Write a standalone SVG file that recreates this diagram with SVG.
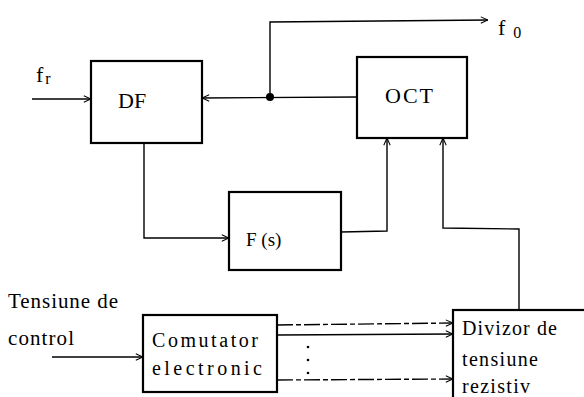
<svg xmlns="http://www.w3.org/2000/svg" width="584" height="397" viewBox="0 0 584 397">
<style>
.box{fill:#fff;stroke:#000;stroke-width:2.2}
.ln{fill:none;stroke:#000;stroke-width:1.4}
.dash{fill:none;stroke:#000;stroke-width:1.4;stroke-dasharray:16 3 5 3}
.t{font-family:"Liberation Serif","Times New Roman","DejaVu Serif",serif;fill:#000}
</style>
<defs>
<marker id="ah" viewBox="0 0 10 10" refX="10" refY="5" markerWidth="8" markerHeight="8" markerUnits="userSpaceOnUse" orient="auto">
<path d="M1,1 L10,5 L1,9" fill="none" stroke="#000" stroke-width="1.3"/>
</marker>
</defs>
<rect width="584" height="397" fill="#fff"/>
<g id="connectors">
<line class="ln" x1="32" y1="99" x2="91" y2="99" marker-end="url(#ah)"/>
<line class="ln" x1="357" y1="97" x2="202" y2="98" marker-end="url(#ah)"/>
<polyline class="ln" points="270,97 270,22 488,20" marker-end="url(#ah)"/>
<polyline class="ln" points="144,143 144,238 229,238" marker-end="url(#ah)"/>
<polyline class="ln" points="341,232 387,231 387,138" marker-end="url(#ah)"/>
<polyline class="ln" points="519,310 519,229 443,228 443,138" marker-end="url(#ah)"/>
<line class="ln" x1="52" y1="357" x2="143" y2="357" marker-end="url(#ah)"/>
<line class="dash" x1="277" y1="325" x2="453" y2="323" marker-end="url(#ah)"/>
<line class="ln" x1="277" y1="335" x2="453" y2="334" marker-end="url(#ah)"/>
<line class="dash" x1="277" y1="380" x2="453" y2="379" marker-end="url(#ah)"/>
<circle cx="270" cy="97" r="4" fill="#000"/>
<circle cx="308" cy="347" r="1.3" fill="#000"/>
<circle cx="308" cy="360" r="1.3" fill="#000"/>
<circle cx="308" cy="373" r="1.3" fill="#000"/>
</g>
<g id="DF">
<rect class="box" x="91" y="61" width="111" height="82"/>
<text class="t" x="118" y="108" font-size="22">DF</text>
</g>
<g id="OCT">
<rect class="box" x="357" y="57" width="110" height="81"/>
<text class="t" x="385" y="103" font-size="22" textLength="48" lengthAdjust="spacing">OCT</text>
</g>
<g id="Fs">
<rect class="box" x="229" y="192" width="112" height="78"/>
<text class="t" x="246" y="246" font-size="19">F (s)</text>
</g>
<g id="Comutator">
<rect class="box" x="143" y="315" width="134" height="77"/>
<text class="t" x="152" y="347" font-size="20" textLength="106" lengthAdjust="spacing">Comutator</text>
<text class="t" x="152" y="375" font-size="20" textLength="110" lengthAdjust="spacing">electronic</text>
</g>
<g id="Divizor">
<rect class="box" x="453" y="310" width="140" height="100"/>
<text class="t" x="462" y="335" font-size="20" textLength="95" lengthAdjust="spacing">Divizor de</text>
<text class="t" x="462" y="366" font-size="20" textLength="76" lengthAdjust="spacing">tensiune</text>
<text class="t" x="462" y="393" font-size="20" textLength="68" lengthAdjust="spacing">rezistiv</text>
</g>
<g id="labels">
<text class="t" x="8" y="308" font-size="21" textLength="110" lengthAdjust="spacing">Tensiune de</text>
<text class="t" x="8" y="345" font-size="21" textLength="66" lengthAdjust="spacing">control</text>
<text class="t" x="36" y="82" font-size="22">f<tspan font-size="16" dx="2" dy="2">r</tspan></text>
<text class="t" x="498" y="35" font-size="22">f<tspan font-size="16" dx="8" dy="3">0</tspan></text>
</g>
</svg>
